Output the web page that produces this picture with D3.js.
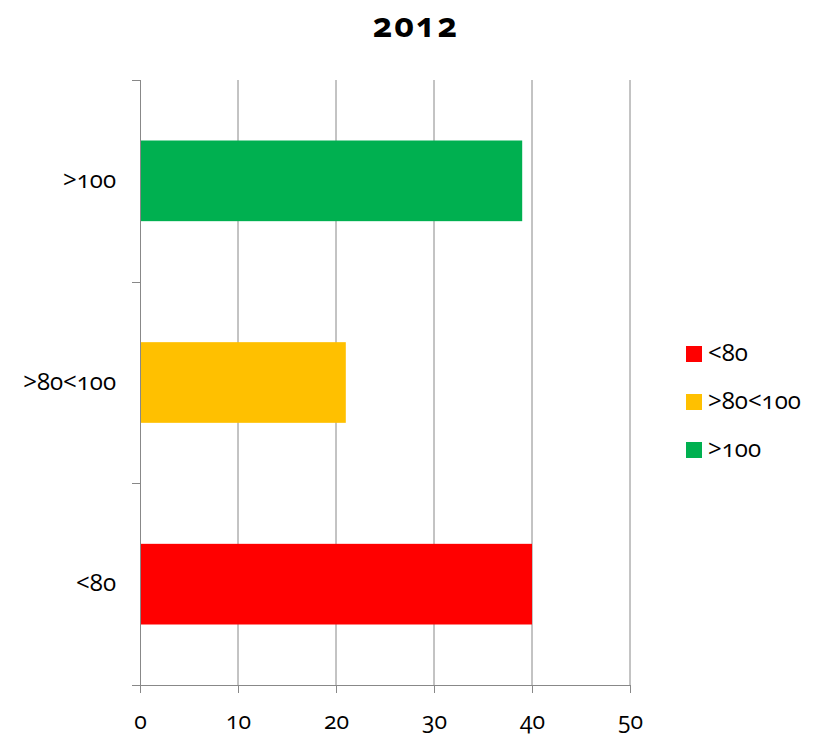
<!DOCTYPE html>
<html>
<head>
<meta charset="utf-8">
<script src="https://cdn.jsdelivr.net/npm/d3@7"></script>
<style>
  body { margin: 0; background: #fff; }
  text { font-family: "Open Sans", "DejaVu Sans", sans-serif; font-variant-numeric: oldstyle-nums; fill: #000; }
</style>
</head>
<body>
<svg id="chart" width="814" height="735"></svg>
<script>
// chart data
var categories = ["<80", ">80<100", ">100"];
var values = [40, 21, 39];
var colors = ["#ff0000", "#ffc000", "#00b050"];
var xTicks = [0, 10, 20, 30, 40, 50];

var svg = d3.select("#chart");
var margin = {top: 80, left: 140, right: 184, bottom: 50};
var width = 630 - margin.left,
    height = 685 - margin.top;

var x = d3.scaleLinear().domain([0, 50]).range([0, width]);
// reversed so first category sits at the bottom
var y = d3.scaleBand().domain(categories.slice().reverse()).range([0, height]).paddingInner(0.6).paddingOuter(0.3);

var g = svg.append("g").attr("transform", "translate(" + margin.left + "," + margin.top + ")");

// vertical gridlines
g.selectAll("line.grid")
    .data(xTicks.slice(1))
  .enter().append("line")
    .attr("class", "grid")
    .attr("x1", function(d) { return x(d); })
    .attr("x2", function(d) { return x(d); })
    .attr("y1", 0)
    .attr("y2", height)
    .attr("stroke", "#888")
    .attr("stroke-width", 1);

// bars
g.selectAll("rect.bar")
    .data(categories)
  .enter().append("rect")
    .attr("class", "bar")
    .attr("x", x(0) + 1)
    .attr("y", function(d) { return y(d); })
    .attr("width", function(d, i) { return x(values[i]) - x(0) - 1; })
    .attr("height", y.bandwidth())
    .attr("fill", function(d, i) { return colors[i]; });

// x axis
var xAxis = d3.axisBottom(x).tickValues(xTicks).tickSize(8).tickPadding(20).tickFormat(d3.format("d"));
var gx = g.append("g")
    .attr("transform", "translate(0," + height + ")")
    .call(xAxis);
gx.select(".domain").attr("stroke", "#888").attr("d", "M-7,0.5H" + width);
gx.selectAll(".tick line").attr("stroke", "#888");
gx.selectAll(".tick text").style("font-size", "23px");

// y axis: ticks on band boundaries, labels centred in bands
var yEdge = d3.scaleLinear().domain([0, categories.length]).range([height, 0]);
var gy = g.append("g");
gy.append("line")
    .attr("x1", 0.5).attr("x2", 0.5)
    .attr("y1", 0).attr("y2", height)
    .attr("stroke", "#888");
gy.selectAll("line.ytick")
    .data(d3.range(categories.length + 1))
  .enter().append("line")
    .attr("class", "ytick")
    .attr("x1", -8).attr("x2", 0)
    .attr("y1", function(d) { return Math.round(yEdge(d)) + 0.5; })
    .attr("y2", function(d) { return Math.round(yEdge(d)) + 0.5; })
    .attr("stroke", "#888");
gy.selectAll("text.ylab")
    .data(categories)
  .enter().append("text")
    .attr("class", "ylab")
    .attr("x", -24)
    .attr("y", function(d) { return y(d) + y.bandwidth() / 2; })
    .attr("dy", "0.3em")
    .attr("text-anchor", "end")
    .style("font-size", "24px")
    .text(function(d) { return d; });

// title
svg.append("text")
    .attr("x", 416)
    .attr("y", 37)
    .attr("text-anchor", "middle")
    .style("font-size", "34px")
    .style("letter-spacing", "2px")
    .style("font-weight", "bold")
    .text("2012");

// legend
var legend = svg.append("g").attr("transform", "translate(686,346)");
var item = legend.selectAll("g")
    .data(categories)
  .enter().append("g")
    .attr("transform", function(d, i) { return "translate(0," + (i * 48) + ")"; });
item.append("rect")
    .attr("width", 16).attr("height", 16)
    .attr("fill", function(d, i) { return colors[i]; });
item.append("text")
    .attr("x", 22)
    .attr("y", 8)
    .attr("dy", "0.3em")
    .style("font-size", "24px")
    .text(function(d) { return d; });
</script>
</body>
</html>
